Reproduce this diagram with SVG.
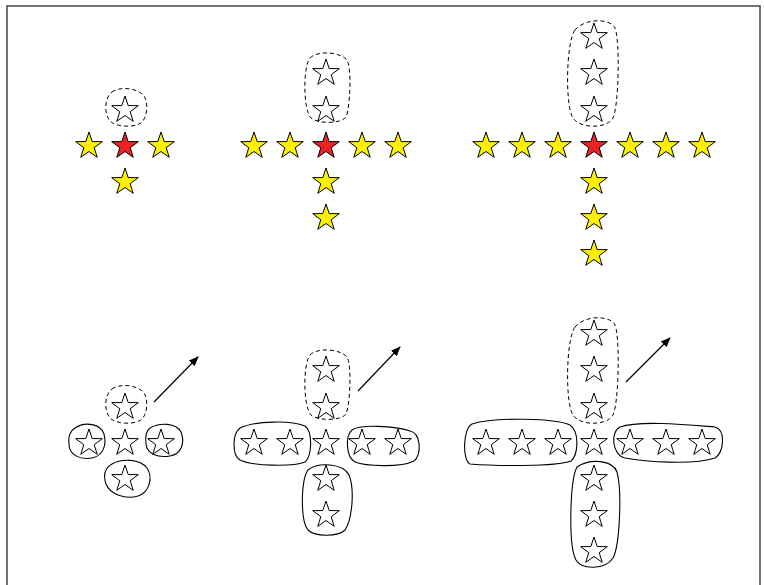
<svg xmlns="http://www.w3.org/2000/svg" xmlns:xlink="http://www.w3.org/1999/xlink" width="764" height="585" viewBox="0 0 764 585">
<style>
.frame{fill:none;stroke:#444;stroke-width:1.5}
.y{fill:#FFF000;stroke:#000;stroke-width:1}
.r{fill:#EE2222;stroke:#000;stroke-width:1}
.o{fill:#fff;stroke:#000;stroke-width:1}
.dash{fill:none;stroke:#000;stroke-width:1;stroke-dasharray:4,3}
.blob{fill:none;stroke:#000;stroke-width:1.1}
.arrow{fill:none;stroke:#000;stroke-width:1.2;marker-end:url(#ah)}
</style>
<defs>
<path id="star" d="M0,-14 L3.2,-4.45 L13.31,-4.33 L5.2,1.7 L8.23,11.33 L0,5.5 L-8.23,11.33 L-5.2,1.7 L-13.31,-4.33 L-3.2,-4.45 Z"/>
<marker id="ah" viewBox="0 0 10 10" refX="9" refY="5" markerWidth="10" markerHeight="10" markerUnits="userSpaceOnUse" orient="auto">
<path d="M0,1 L10,5 L0,9 Z" fill="#000"/>
</marker>
</defs>
<rect class="frame" x="7" y="6" width="753" height="620"/>

<g id="panel1">
<use href="#star" class="y" x="89" y="146"/>
<use href="#star" class="r" x="125" y="146"/>
<use href="#star" class="y" x="161" y="146"/>
<use href="#star" class="y" x="125" y="182"/>
<use href="#star" class="o" x="125" y="110"/>
<path class="dash" d="M112,92 C120,86 138,88 144,96 C149,104 147,118 141,123 C133,128 116,127 110,121 C104,114 104,98 112,92 Z"/>
</g>

<g id="panel2">
<use href="#star" class="y" x="254" y="146"/>
<use href="#star" class="y" x="290" y="146"/>
<use href="#star" class="r" x="326" y="146"/>
<use href="#star" class="y" x="362" y="146"/>
<use href="#star" class="y" x="398" y="146"/>
<use href="#star" class="y" x="326" y="182"/>
<use href="#star" class="y" x="326" y="218"/>
<use href="#star" class="o" x="326" y="110"/>
<use href="#star" class="o" x="326" y="73"/>
<path class="dash" d="M310,58 C318,50 340,52 347,60 C352,68 350,108 346,117 C341,124 318,124 311,118 C303,110 303,66 310,58 Z"/>
</g>

<g id="panel3">
<use href="#star" class="y" x="486" y="146"/>
<use href="#star" class="y" x="522" y="146"/>
<use href="#star" class="y" x="558" y="146"/>
<use href="#star" class="r" x="594" y="146"/>
<use href="#star" class="y" x="630" y="146"/>
<use href="#star" class="y" x="666" y="146"/>
<use href="#star" class="y" x="702" y="146"/>
<use href="#star" class="y" x="594" y="182"/>
<use href="#star" class="y" x="594" y="218"/>
<use href="#star" class="y" x="594" y="254"/>
<use href="#star" class="o" x="594" y="110"/>
<use href="#star" class="o" x="594" y="73"/>
<use href="#star" class="o" x="594" y="37"/>
<path class="dash" d="M575,30 C585,18 610,18 615,28 C620,40 619,105 613,118 C607,129 580,129 573,118 C565,106 566,42 575,30 Z"/>
</g>

<g id="panel4">
<use href="#star" class="o" x="89" y="443"/>
<use href="#star" class="o" x="125" y="443"/>
<use href="#star" class="o" x="161" y="443"/>
<use href="#star" class="o" x="125" y="479"/>
<use href="#star" class="o" x="125" y="407"/>
<path class="dash" d="M112,389 C120,383 138,385 144,393 C149,401 147,415 141,420 C133,425 116,424 110,418 C104,411 104,395 112,389 Z"/>
<path class="blob" d="M75,428 C85,421 101,424 104,434 C107,445 103,456 92,458 C80,460 69,455 69,444 C68,436 70,431 75,428 Z"/>
<path class="blob" d="M150,428 C160,422 176,423 181,432 C185,442 182,454 170,456 C158,458 147,454 146,444 C145,436 146,431 150,428 Z"/>
<path class="blob" d="M112,464 C122,458 140,459 147,468 C153,477 150,492 138,496 C125,500 110,494 106,484 C103,475 105,468 112,464 Z"/>
</g>

<g id="panel5">
<use href="#star" class="o" x="254" y="443"/>
<use href="#star" class="o" x="290" y="443"/>
<use href="#star" class="o" x="326" y="443"/>
<use href="#star" class="o" x="362" y="443"/>
<use href="#star" class="o" x="398" y="443"/>
<use href="#star" class="o" x="326" y="479"/>
<use href="#star" class="o" x="326" y="515"/>
<use href="#star" class="o" x="326" y="407"/>
<use href="#star" class="o" x="326" y="370"/>
<path class="dash" d="M310,355 C318,347 340,349 347,357 C352,365 350,405 346,414 C341,421 318,421 311,415 C303,407 303,363 310,355 Z"/>
<path class="blob" d="M240,428 C255,421 290,420 305,426 C313,432 312,456 305,462 C292,467 252,466 240,460 C232,455 232,434 240,428 Z"/>
<path class="blob" d="M352,430 C360,424 395,426 410,431 C421,433 422,455 414,461 C400,468 365,466 355,462 C346,457 345,436 352,430 Z"/>
<path class="blob" d="M308,470 C318,462 343,463 349,475 C355,490 352,520 345,530 C338,537 315,537 308,530 C300,520 301,480 308,470 Z"/>
</g>

<g id="panel6">
<use href="#star" class="o" x="486" y="443"/>
<use href="#star" class="o" x="522" y="443"/>
<use href="#star" class="o" x="558" y="443"/>
<use href="#star" class="o" x="594" y="443"/>
<use href="#star" class="o" x="630" y="443"/>
<use href="#star" class="o" x="666" y="443"/>
<use href="#star" class="o" x="702" y="443"/>
<use href="#star" class="o" x="594" y="479"/>
<use href="#star" class="o" x="594" y="515"/>
<use href="#star" class="o" x="594" y="551"/>
<use href="#star" class="o" x="594" y="407"/>
<use href="#star" class="o" x="594" y="370"/>
<use href="#star" class="o" x="594" y="334"/>
<path class="dash" d="M575,327 C585,315 610,315 615,325 C620,337 619,402 613,415 C607,426 580,426 573,415 C565,403 566,339 575,327 Z"/>
<path class="blob" d="M472,424 C495,417 555,418 570,425 C580,432 578,455 571,461 C555,467 495,466 470,464 C462,460 463,428 472,424 Z"/>
<path class="blob" d="M620,427 C640,420 690,425 715,427 C726,430 724,452 715,458 C695,465 645,462 625,458 C612,455 610,432 620,427 Z"/>
<path class="blob" d="M577,467 C590,458 613,460 617,472 C622,490 620,545 613,558 C605,570 582,570 576,560 C568,545 570,480 577,467 Z"/>
</g>

<g id="connectors">
<line class="arrow" x1="154" y1="402" x2="198" y2="357"/>
<line class="arrow" x1="358" y1="391" x2="400" y2="347"/>
<line class="arrow" x1="626" y1="382" x2="670" y2="338"/>
</g>
</svg>
